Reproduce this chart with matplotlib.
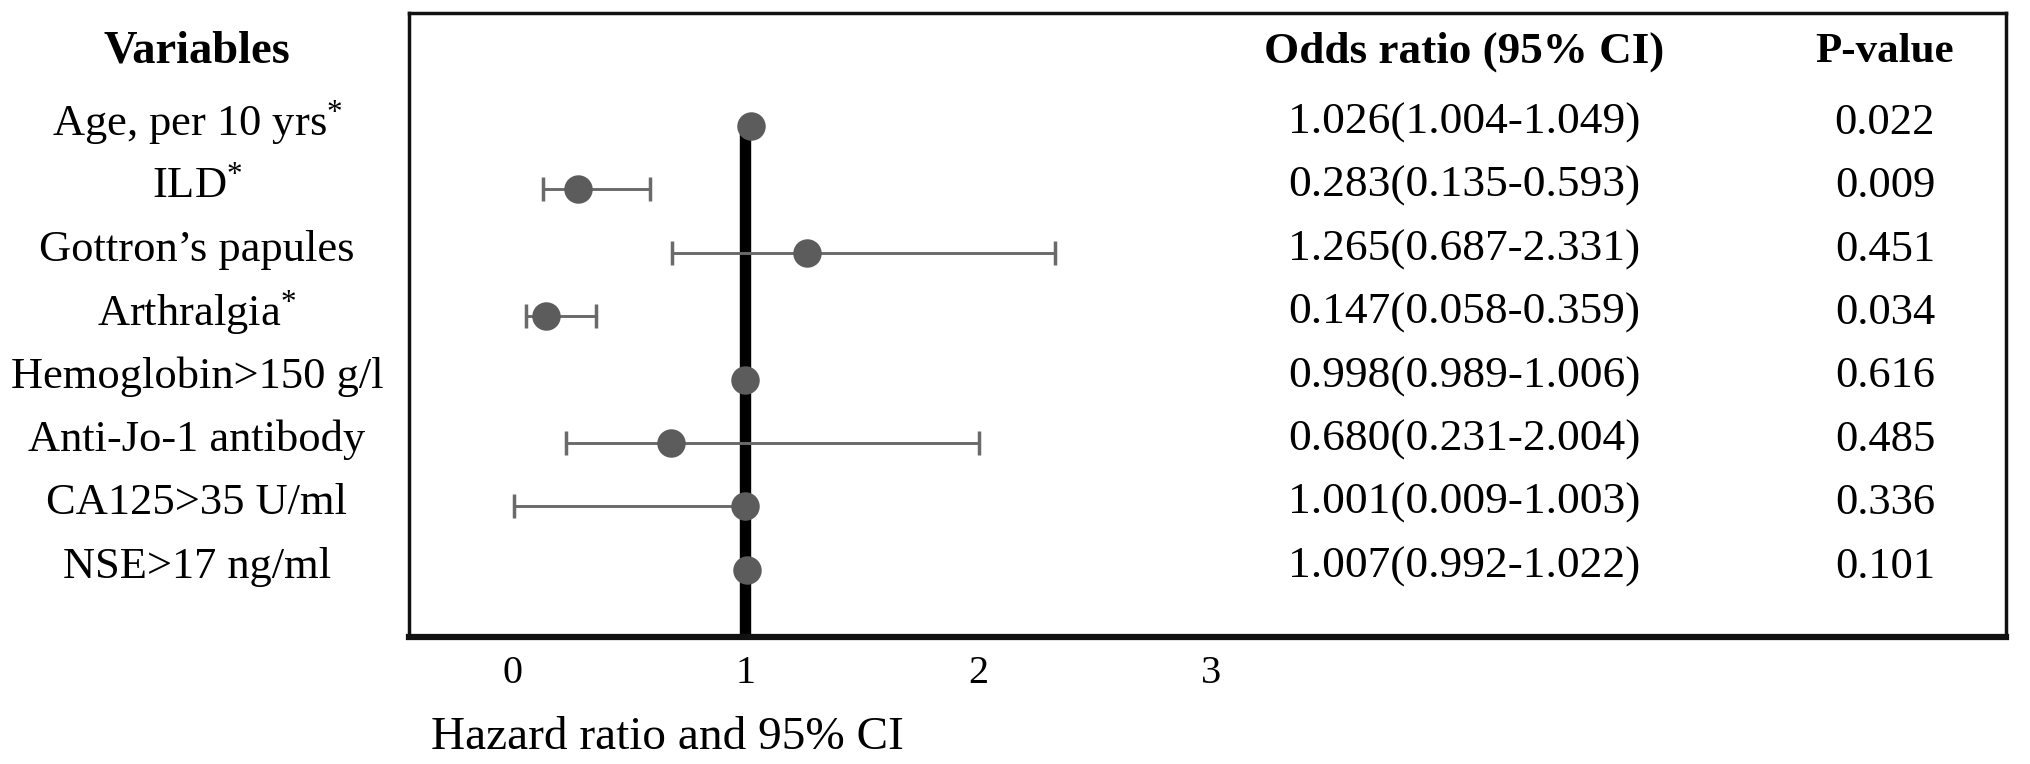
import matplotlib
matplotlib.use("Agg")
import matplotlib.pyplot as plt
from matplotlib.transforms import blended_transform_factory

plt.rcParams['font.family'] = ['Liberation Serif', 'DejaVu Serif']
plt.rcParams['mathtext.fontset'] = 'custom'
plt.rcParams['mathtext.rm'] = 'Liberation Serif'
plt.rcParams['mathtext.it'] = 'Liberation Serif:italic'
plt.rcParams['mathtext.bf'] = 'Liberation Serif:bold'

# ---- data ----
variables = ["Age, per 10 yrs$^{*}$", "ILD$^{*}$", "Gottron\u2019s papules", "Arthralgia$^{*}$",
             "Hemoglobin>150 g/l", "Anti-Jo-1 antibody", "CA125>35 U/ml", "NSE>17 ng/ml"]
odds = [1.026, 0.283, 1.265, 0.147, 0.998, 0.680, 1.001, 1.007]
ci_low = [1.004, 0.135, 0.687, 0.058, 0.989, 0.231, 0.009, 0.992]
ci_high = [1.049, 0.593, 2.331, 0.359, 1.006, 2.004, 1.003, 1.022]
p_values = ["0.022", "0.009", "0.451", "0.034", "0.616", "0.485", "0.336", "0.101"]
xticks = [0, 1, 2, 3]
header_var = "Variables"
header_or = "Odds ratio (95% CI)"
header_p = "P-value"
xlabel = "Hazard ratio and 95% CI"

W, H = 2031, 764
fig = plt.figure(figsize=(W / 100, H / 100), dpi=100)
fig.patch.set_facecolor('white')
ax = fig.add_axes([409 / W, (H - 637) / H, (2006 - 409) / W, (637 - 13) / H])

n = len(variables)
ys = list(range(n))
ax.set_xlim(-0.442, 6.41)
ax.set_ylim(8.06, -1.78)

# reference line at 1
ax.vlines(1, 0, 8.06, color='black', linewidth=8.2, zorder=2)

gray = '#5c5c5c'
xerr = [[o - l for o, l in zip(odds, ci_low)], [h - o for o, h in zip(odds, ci_high)]]
ax.errorbar(odds, ys, xerr=xerr, fmt='none', ecolor='#6a6a6a', elinewidth=2.1,
            capsize=8.3, capthick=2.5, zorder=3)
ax.plot(odds, ys, linestyle='none', marker='o', markersize=20.5, color=gray,
        markeredgewidth=0, zorder=4)

# axes styling
for s in ['left', 'right', 'top']:
    ax.spines[s].set_linewidth(2.5)
    ax.spines[s].set_color('#111111')
ax.spines['bottom'].set_linewidth(4.5)
ax.spines['bottom'].set_color('#111111')
ax.set_yticks([])
ax.set_xticks(xticks)
ax.set_xticklabels([str(t) for t in xticks])
ax.tick_params(axis='x', length=0, pad=13, labelsize=29)

# text columns
tr = blended_transform_factory(fig.transFigure, ax.transData)
hdr_y = -1.17
fig_x = lambda px: px / W
ax.text(fig_x(197), hdr_y, header_var, transform=tr, ha='center', va='center',
        fontsize=33.5, fontweight='bold', clip_on=False)
ax.text(fig_x(1464), hdr_y, header_or, transform=tr, ha='center', va='center',
        fontsize=32.5, fontweight='bold', clip_on=False)
ax.text(fig_x(1885), hdr_y, header_p, transform=tr, ha='center', va='center',
        fontsize=31, fontweight='bold', clip_on=False)

for y, name, o, l, h, p in zip(ys, variables, odds, ci_low, ci_high, p_values):
    ax.text(fig_x(197), y - 0.05, name, transform=tr, ha='center', va='center',
            fontsize=32, clip_on=False)
    ax.text(fig_x(1464), y - 0.05, f"{o:.3f}({l:.3f}-{h:.3f})", transform=tr,
            ha='center', va='center', fontsize=32.7, clip_on=False)
    ax.text(fig_x(1885), y - 0.05, p, transform=tr, ha='center', va='center',
            fontsize=32, clip_on=False)

fig.text(431 / W, 1 - 738 / H, xlabel, ha='left', va='center', fontsize=34)

fig.savefig("out.png", dpi=100, facecolor='white')
